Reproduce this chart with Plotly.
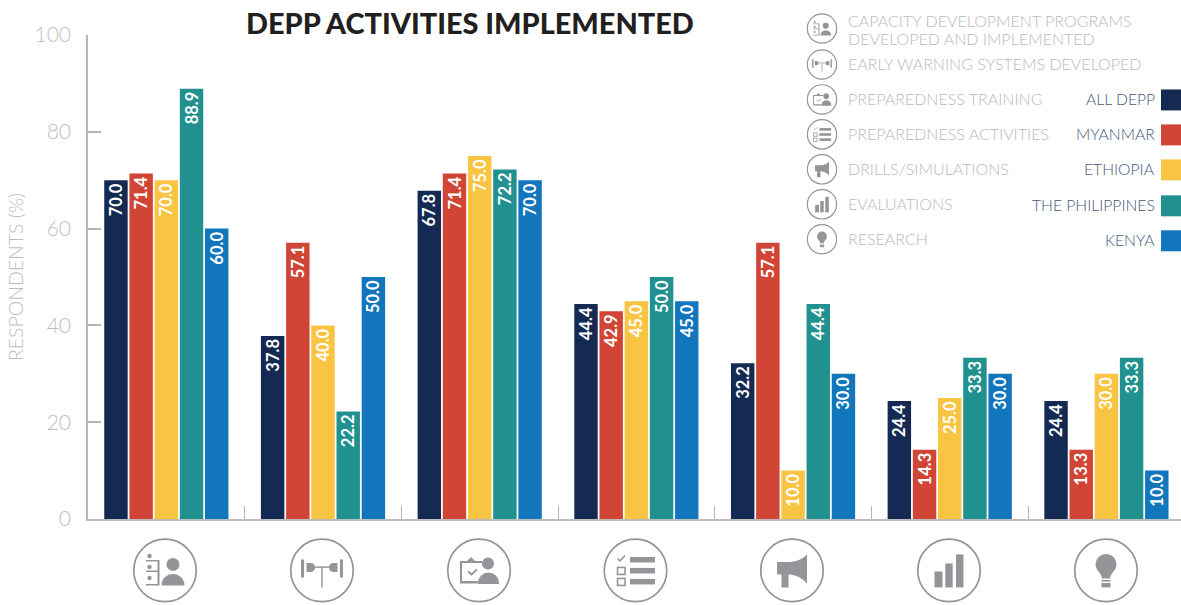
import base64
import plotly.graph_objects as go

categories = ["Capacity development", "Early warning systems", "Preparedness training",
              "Preparedness activities", "Drills/simulations", "Evaluations", "Research"]
all_depp = [70.0, 37.8, 67.8, 44.4, 32.2, 24.4, 24.4]
myanmar = [71.4, 57.1, 71.4, 42.9, 57.1, 14.3, 14.3]
ethiopia = [70.0, 40.0, 75.0, 45.0, 10.0, 25.0, 30.0]
philippines = [88.9, 22.2, 72.2, 50.0, 44.4, 33.3, 33.3]
kenya = [60.0, 50.0, 70.0, 45.0, 30.0, 30.0, 10.0]
myanmar_labels = ["71.4", "57.1", "71.4", "42.9", "57.1", "14.3", "13.3"]

series_names = ["ALL DEPP", "MYANMAR", "ETHIOPIA", "THE PHILIPPINES", "KENYA"]
series_colors = ["#152A52", "#D04535", "#F9C442", "#219190", "#1176BC"]
series_values = [all_depp, myanmar, ethiopia, philippines, kenya]
activity_labels = ["CAPACITY DEVELOPMENT PROGRAMS<br>DEVELOPED AND IMPLEMENTED",
                   "EARLY WARNING SYSTEMS DEVELOPED", "PREPAREDNESS TRAINING",
                   "PREPAREDNESS ACTIVITIES", "DRILLS/SIMULATIONS", "EVALUATIONS", "RESEARCH"]

W, H = 1181, 605
L, R, T, B = 88, 1181, 34.5, 519
GRAY = "#939598"
def px(x): return (x - L) / (R - L)
def py(y): return (B - y) / (B - T)

ICONS = [
    # capacity development
    '<circle cx="8" cy="-6" r="6.5"/><path d="M-3.5 15A11.5 11.5 0 0 1 19.5 15Z"/>'
    '<circle cx="-15.5" cy="-14.5" r="2.2"/><circle cx="-15.5" cy="-3.5" r="2.2"/><circle cx="-15.5" cy="7.5" r="2.2"/>'
    '<path d="M-19-10.5H-5.5V15H-19V13.5H-7.5V1.5H-19V0H-7.5V-9H-19Z"/>',
    # wind vane
    '<rect x="-21" y="-11" width="3" height="18"/><rect x="18" y="-11" width="3" height="18"/>'
    '<path d="M-15.5-7.5H-11Q-7-7-7-3Q-7 1-11 1.5H-15.5Z"/><path d="M15.5-7.5H11Q7-7 7-3Q7 1 11 1.5H15.5Z"/>'
    '<rect x="-7" y="-4" width="14" height="1.4"/><rect x="-.7" y="-4" width="1.4" height="21"/>',
    # training
    '<circle cx="9" cy="-7" r="6"/><path d="M-1 13.5V12.5A10.5 10.5 0 0 1 20 12.5V13.5Z"/>'
    '<path d="M-19-9.5H-12L-8-13.5L-4-9.5H3V-7.5H-17V10.5H-1V13H-19Z"/>'
    '<path d="M-11 1L-7.5 4L-2-1" fill="none" stroke="#939598" stroke-width="1.8"/>',
    # activities
    '<rect x="-5.5" y="-13.5" width="25" height="5.5"/><rect x="-5.5" y="-2.5" width="25" height="5.5"/><rect x="-5.5" y="8.5" width="25" height="5.5"/>'
    '<path d="M-18-12L-15.5-9.5L-10.5-15" fill="none" stroke="#939598" stroke-width="1.6"/>'
    '<rect x="-18" y="-3" width="7.5" height="7" fill="none" stroke="#939598" stroke-width="1.6"/>'
    '<rect x="-18" y="8" width="7.5" height="7" fill="none" stroke="#939598" stroke-width="1.6"/>',
    # drills
    '<path d="M-15-8.5H-2Q8-9 15-16V13Q8 5-2 4H-3.5V17H-10.5V4H-15Z"/>',
    # evaluations
    '<rect x="-14.5" y="1" width="8" height="16"/><rect x="-3.7" y="-7" width="7.4" height="24"/><rect x="7" y="-16" width="7.5" height="33"/>',
    # research
    '<path d="M-4 8C-4 3-10.5 0-10.5-6A10.5 10.5 0 0 1 10.5-6C10.5 0 4 3 4 8Z"/>'
    '<rect x="-4.5" y="9.5" width="9" height="1.6"/><rect x="-4.5" y="12.5" width="9" height="4.5"/>',
]

def icon_uri(inner, stroke):
    svg = ('<svg xmlns="http://www.w3.org/2000/svg" width="200" height="200" viewBox="-33 -33 66 66">'
           f'<circle r="31.3" fill="#fff" stroke="{GRAY}" stroke-width="{stroke}"/><g fill="{GRAY}">{inner}</g></svg>')
    return "data:image/svg+xml;base64," + base64.b64encode(svg.encode()).decode()

fig = go.Figure()
for name, color, vals in zip(series_names, series_colors, series_values):
    labels = myanmar_labels if name == "MYANMAR" else [f"{v:.1f}" for v in vals]
    fig.add_trace(go.Bar(
        x=list(range(7)), y=vals, name=name, marker=dict(color=color, line_width=0),
        text=labels, textposition="inside", insidetextanchor="end", textangle=-90,
        textfont=dict(family="Lato", size=16.5, color="white", weight=700),
        constraintext="none", cliponaxis=False, showlegend=False))

images, annotations, shapes = [], [], []
big_cx = [165, 322, 479, 635.5, 792, 949, 1106]
for cx, inner in zip(big_cx, ICONS):
    images.append(dict(source=icon_uri(inner, 1.7), xref="paper", yref="paper",
                       x=px(cx), y=py(570.5), sizex=66 / (R - L), sizey=66 / (B - T),
                       xanchor="center", yanchor="middle", sizing="contain", layer="above"))
small_cy = [28, 64, 99, 134, 169, 204, 239]
for cy, inner, label in zip(small_cy, ICONS, activity_labels):
    images.append(dict(source=icon_uri(inner, 2.6), xref="paper", yref="paper",
                       x=px(822), y=py(cy), sizex=31 / (R - L), sizey=31 / (B - T),
                       xanchor="center", yanchor="middle", sizing="contain", layer="above"))
    lines = label.split("<br>")
    centers = [19.5, 38] if len(lines) == 2 else [cy - 0.5]
    for line, ly in zip(lines, centers):
        annotations.append(dict(text=line, xref="paper", yref="paper", x=px(846.5), y=py(ly),
                                xanchor="left", yanchor="middle", align="left", showarrow=False,
                                font=dict(family="Lato", size=16, color="#B9BABC", weight=300)))
swatch_top = [89, 124, 159, 195, 230]
for top, name, color in zip(swatch_top, series_names, series_colors):
    shapes.append(dict(type="rect", xref="paper", yref="paper", x0=px(1161), x1=px(1181),
                       y0=py(top), y1=py(top + 21), fillcolor=color, line_width=0))
    annotations.append(dict(text=name, xref="paper", yref="paper", x=px(1156.5), y=py(top + 9.5),
                            xanchor="right", yanchor="middle", showarrow=False,
                            font=dict(family="Lato", size=15.7, color="#47577A", weight=300)))
annotations.append(dict(text="DEPP ACTIVITIES IMPLEMENTED", xref="paper", yref="paper",
                        x=px(470), y=py(22), xanchor="center", yanchor="middle", showarrow=False,
                        font=dict(family="Lato", size=28.9, color="#231F20", weight=900)))

fig.update_layout(
    width=W, height=H, autosize=False, margin=dict(l=L, r=W - R, t=T, b=H - B, pad=0),
    paper_bgcolor="white", plot_bgcolor="white", barmode="group", bargap=0.196, bargroupgap=0.07,
    uniformtext=dict(minsize=16.5, mode="show"),
    images=images, annotations=annotations, shapes=shapes,
    xaxis=dict(range=[-0.5, 6.476], tickmode="array", tickvals=[0.5, 1.5, 2.5, 3.5, 4.5, 5.5], ticktext=[""] * 6,
               ticks="inside", ticklen=13, tickwidth=1, tickcolor="#B5B5B5",
               showgrid=False, zeroline=False, showline=True, linecolor="#BDBDBD", linewidth=1.5),
    yaxis=dict(range=[0, 100], tickvals=[0, 20, 40, 60, 80, 100], ticks="inside", ticklen=13, tickwidth=1.5,
               tickcolor="#B5B5B5", showgrid=False, zeroline=False, showline=True, linecolor="#B5B5B5", linewidth=1.5,
               ticklabelstandoff=11,
               tickfont=dict(family="Lato", size=21, color="#BDBEC0", weight=300),
               title=dict(text="RESPONDENTS (%)", standoff=6,
                          font=dict(family="Lato", size=19.5, color="#BDBEC0", weight=300))),
)
fig.write_html("out.html", config=dict(displayModeBar=False),
               post_script="document.body.style.margin='0';document.documentElement.style.overflow='hidden';")
